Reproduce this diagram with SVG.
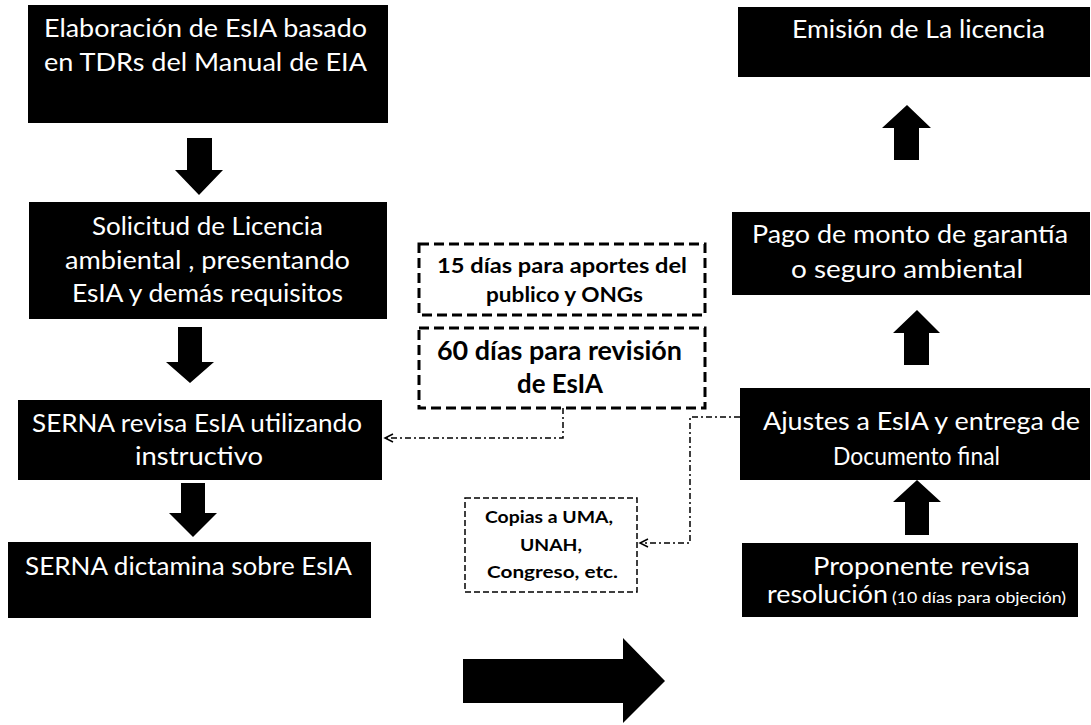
<svg xmlns="http://www.w3.org/2000/svg" width="1091" height="725" viewBox="0 0 1091 725">
<defs>
<style>
.box{fill:#000;}
.t{font-family:Lato,"Open Sans","Liberation Sans",sans-serif;fill:#fff;font-size:24.5px;}
.d{font-family:Lato,"Open Sans","Liberation Sans",sans-serif;fill:#000;font-weight:bold;}
.dash{fill:#fff;stroke:#000;stroke-width:3;stroke-dasharray:10 5;}
.dash2{fill:#fff;stroke:#000;stroke-width:1.5;stroke-dasharray:6 3;}
.con{fill:none;stroke:#000;stroke-width:1.5;stroke-dasharray:6 3 2 3;}
.arr{fill:#000;}
.small{font-size:16px;}
</style>
<marker id="open" markerUnits="userSpaceOnUse" markerWidth="12" markerHeight="12" refX="9" refY="5" orient="auto">
<path d="M1,1 L9,5 L1,9" fill="none" stroke="#000" stroke-width="1.5"/>
</marker>
</defs>
<rect width="1091" height="725" fill="#fff"/>

<g id="n1"><rect class="box" x="28" y="5" width="360" height="118"/>
<text class="t" x="44" y="37" textLength="323" lengthAdjust="spacingAndGlyphs">Elaboración de EsIA basado</text>
<text class="t" x="44" y="71" textLength="323" lengthAdjust="spacingAndGlyphs">en TDRs  del Manual de EIA</text></g>

<g id="n2"><rect class="box" x="29" y="202" width="358" height="117"/>
<text class="t" x="92" y="235" textLength="231" lengthAdjust="spacingAndGlyphs">Solicitud de Licencia</text>
<text class="t" x="65" y="269" textLength="285" lengthAdjust="spacingAndGlyphs">ambiental , presentando</text>
<text class="t" x="72" y="302" textLength="271" lengthAdjust="spacingAndGlyphs">EsIA y demás requisitos</text></g>

<g id="n3"><rect class="box" x="18" y="400" width="364" height="80"/>
<text class="t" x="32" y="432" textLength="330" lengthAdjust="spacingAndGlyphs">SERNA revisa EsIA utilizando</text>
<text class="t" x="135" y="465" textLength="128" lengthAdjust="spacingAndGlyphs">instructivo</text></g>

<g id="n4"><rect class="box" x="8" y="542" width="363" height="76"/>
<text class="t" x="25" y="575" textLength="327" lengthAdjust="spacingAndGlyphs">SERNA dictamina sobre EsIA</text></g>

<g id="n5"><rect class="box" x="738" y="7" width="352" height="70"/>
<text class="t" x="792" y="38" textLength="253" lengthAdjust="spacingAndGlyphs">Emisión de La licencia</text></g>

<g id="n6"><rect class="box" x="732" y="212" width="358" height="83"/>
<text class="t" x="752" y="243" textLength="316" lengthAdjust="spacingAndGlyphs">Pago de monto de garantía</text>
<text class="t" x="791" y="278" textLength="232" lengthAdjust="spacingAndGlyphs">o seguro ambiental</text></g>

<g id="n7"><rect class="box" x="740" y="388" width="350" height="92"/>
<text class="t" x="763" y="430" textLength="317" lengthAdjust="spacingAndGlyphs">Ajustes a EsIA y entrega de</text>
<text class="t" x="833" y="465" textLength="167" lengthAdjust="spacingAndGlyphs">Documento final</text></g>

<g id="n8"><rect class="box" x="742" y="543" width="336" height="74"/>
<text class="t" x="813" y="575" textLength="217" lengthAdjust="spacingAndGlyphs">Proponente revisa</text>
<text class="t" x="767" y="603"><tspan textLength="121" lengthAdjust="spacingAndGlyphs">resolución</tspan><tspan class="small" x="892" textLength="174" lengthAdjust="spacingAndGlyphs">(10 días para objeción)</tspan></text></g>

<g id="d1"><rect class="dash" x="419" y="244" width="286" height="71"/>
<text class="d" x="437" y="273" font-size="20" textLength="250" lengthAdjust="spacingAndGlyphs">15 días para aportes del</text>
<text class="d" x="486" y="302" font-size="20" textLength="157" lengthAdjust="spacingAndGlyphs">publico y ONGs</text></g>

<g id="d2"><rect class="dash" x="419" y="328" width="286" height="80"/>
<text class="d" x="437" y="360" font-size="26" textLength="245" lengthAdjust="spacingAndGlyphs">60 días para revisión</text>
<text class="d" x="517" y="393" font-size="26" textLength="86" lengthAdjust="spacingAndGlyphs">de EsIA</text></g>

<g id="d3"><rect class="dash2" x="465" y="498" width="172" height="94"/>
<text class="d" x="485" y="523" font-size="17" textLength="128" lengthAdjust="spacingAndGlyphs">Copias a UMA,</text>
<text class="d" x="551" y="551" font-size="17" text-anchor="middle" textLength="62" lengthAdjust="spacingAndGlyphs">UNAH,</text>
<text class="d" x="487" y="578" font-size="17" textLength="131" lengthAdjust="spacingAndGlyphs">Congreso, etc.</text></g>

<g id="arrows">
<polygon class="arr" points="187,138 212,138 212,170 223,170 199,195 175,170 187,170"/>
<polygon class="arr" points="178,327 202,327 202,362 214,362 190,383 166,362 178,362"/>
<polygon class="arr" points="181,483 205,483 205,513 217,513 193,537 169,513 181,513"/>
<polygon class="arr" points="894,160 919,160 919,128 931,128 907,105 882,128 894,128"/>
<polygon class="arr" points="904,365 929,365 929,333 940,333 917,310 893,333 904,333"/>
<polygon class="arr" points="905,535 929,535 929,502 941,502 917,480 893,502 905,502"/>
<polygon class="arr" points="463,659 623,659 623,638 665,681 623,723 623,703 463,703"/>
</g>

<g id="connectors">
<path class="con" d="M563,408 L563,438 L385,438" marker-end="url(#open)"/>
<path class="con" d="M740,417 L690,417 L690,543 L640,543" marker-end="url(#open)"/>
</g>
</svg>
